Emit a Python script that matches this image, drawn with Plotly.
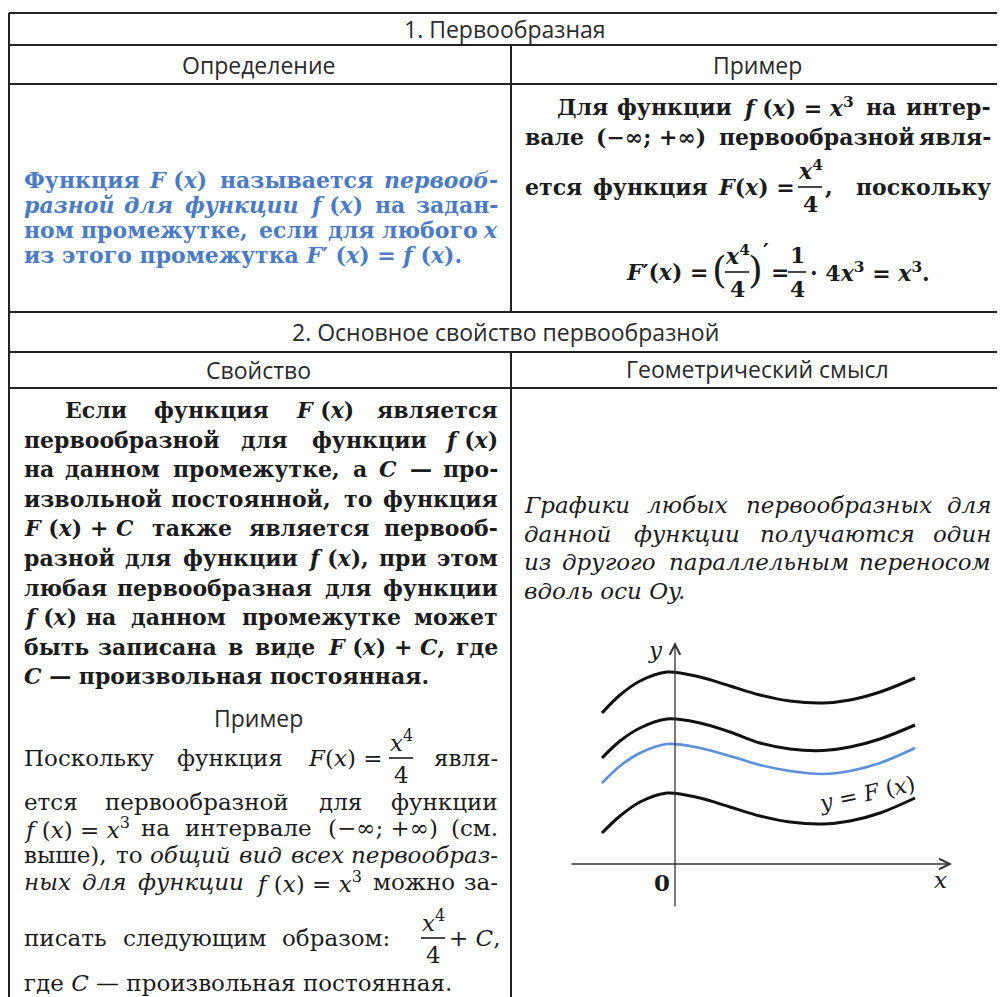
import re
import plotly.graph_objects as go

W, H = 1005, 997
OFF = 8                      # browser body margin
FW, FH = W - OFF, H - OFF    # figure size so the page fits the window

# ---- chart data (1 unit = 10 px, origin where the axes cross) ----
curve_x = [-7.3, -5.5, -3.5, -0.8, 2.5, 5.5, 8.5, 11.5, 14.8, 17.5, 20.5, 24.0]
curve_top = [15.1, 16.9, 18.3, 19.2, 18.7, 17.8, 16.9, 16.3, 16.1, 16.4, 17.2, 18.6]
curve_mid = [10.6, 12.3, 13.6, 14.5, 14.1, 13.2, 12.1, 11.5, 11.35, 11.7, 12.5, 13.9]
curve_F = [8.1, 9.8, 11.1, 12.0, 11.6, 10.8, 9.9, 9.3, 9.0, 9.3, 10.1, 11.6]
curve_low = [3.1, 4.8, 6.2, 7.1, 6.6, 5.7, 4.8, 4.2, 4.0, 4.3, 5.1, 6.6]

# ---- text content ('~' keeps pieces together on a justified line) ----
headers = ["1. Первообразная", "Определение", "Пример",
           "2. Основное свойство первообразной", "Свойство", "Геометрический смысл", "Пример"]

definition_lines = [
    "Функция <i>F</i>~(<i>x</i>) называется <i>первооб-</i>",
    "<i>разной</i> <i>для</i> <i>функции</i> <i>f</i>~(<i>x</i>) на задан-",
    "ном промежутке, если для любого <i>x</i>",
    "из этого промежутка <i>F</i>′~(<i>x</i>)~=~<i>f</i>~(<i>x</i>).",
]

property_lines = [
    "Если функция <i>F</i>~(<i>x</i>) является",
    "первообразной для функции <i>f</i>~(<i>x</i>)",
    "на данном промежутке, а <i>C</i> — про-",
    "извольной постоянной, то функция",
    "<i>F</i>~(<i>x</i>)~+~<i>C</i> также является первооб-",
    "разной для функции <i>f</i>~(<i>x</i>), при этом",
    "любая первообразная для функции",
    "<i>f</i>~(<i>x</i>) на данном промежутке может",
    "быть записана в виде <i>F</i>~(<i>x</i>)~+~<i>C</i>, где",
    "<i>C</i> — произвольная постоянная.",
]

example2_lines = [
    "ется первообразной для функции",
    "<i>f</i>~(<i>x</i>)~=~<i>x</i><sup>3</sup> на интервале (−∞;~+∞) (см.",
    "выше), то <i>общий</i> <i>вид</i> <i>всех</i> <i>первообраз-</i>",
    "<i>ных</i> <i>для</i> <i>функции</i> <i>f</i>~(<i>x</i>)~=~<i>x</i><sup>3</sup> можно за-",
]
example2_y = [802, 828, 855, 882]

geometry_lines = [
    "Графики любых первообразных для",
    "данной функции получаются один",
    "из другого параллельным переносом",
    "вдоль оси Oy.",
]

SERIF = "DejaVu Serif"
SANS = "Open Sans"
INK = "#1b1b1b"
BLUE_TEXT = "#4a7bc4"
BLUE_LINE = "#5b8fd9"
BODY = 22
REG = 23

CW = {'а': .596, 'б': .6, 'в': .6, 'г': .53, 'д': .64, 'е': .592, 'ж': .92, 'з': .54, 'и': .66,
      'й': .66, 'к': .63, 'л': .64, 'м': .77, 'н': .66, 'о': .602, 'п': .66, 'р': .64, 'с': .56,
      'т': .58, 'у': .58, 'ф': .85, 'х': .58, 'ц': .66, 'ч': .63, 'ш': .95, 'щ': .95, 'ъ': .68,
      'ы': .86, 'ь': .6, 'э': .56, 'ю': .87, 'я': .62, ' ': .318, ',': .318, '.': .318, '-': .338,
      '(': .39, ')': .39, ';': .337, ':': .337, '—': 1.0, '−': .838, '+': .838, '=': .838,
      '∞': .833, '′': .3, 'x': .56, 'f': .37, 'F': .68, 'C': .72, 'O': .78, 'y': .56,
      'Е': .72, 'Ф': .85, 'Д': .78, 'Г': .66, 'П': .8, '3': .636, '4': .636}

annotations = []
shapes = []


def px(x):
    return (x - OFF) / FW


def py(y):
    return 1 - (y - OFF) / FH


def text(s, x, y, size=BODY, family=SERIF, color=INK, anchor="left", bold=False):
    if bold:
        s = "<b>" + s + "</b>"
    annotations.append(dict(text=s, x=px(x), y=py(y), xref="paper", yref="paper",
                            xanchor=anchor, yanchor="middle", showarrow=False,
                            font=dict(family=family, size=size, color=color)))


def line(x0, y0, x1, y1, width=2.0, color="#222"):
    shapes.append(dict(type="line", xref="paper", yref="paper",
                       x0=px(x0), y0=py(y0), x1=px(x1), y1=py(y1),
                       line=dict(color=color, width=width)))


def frac(num, den, cx, cy, bold, size=BODY, half=12):
    text(num, cx, cy - 17, size, anchor="center", bold=bold)
    line(cx - half, cy, cx + half, cy, width=1.6, color=INK)
    text(den, cx, cy + 17, size, anchor="center", bold=bold)


def est_width(tok, size, bold):
    total, scale = 0.0, 1.0
    for part in re.split(r'(<[^>]+>)', tok):
        if part.startswith('<'):
            if part == '<sup>':
                scale = 0.7
            elif part == '</sup>':
                scale = 1.0
            continue
        for ch in part:
            total += CW.get(ch, 0.62) * scale
    return total * size * (1.11 if bold else 1.0)


def place_line(s, xl, xr, y, size=BODY, bold=False, color=INK, italic=False, justify=True):
    toks = [t.replace('~', ' ') for t in s.split(' ')]
    fmt = (lambda t: '<i>' + t + '</i>') if italic else (lambda t: t)
    if not justify or len(toks) < 2:
        text(fmt(' '.join(toks)), xl, y, size, color=color, bold=bold)
        return
    widths = [est_width(t, size, bold) for t in toks]
    space = CW[' '] * size
    gap = max(space, (xr - xl - sum(widths)) / (len(toks) - 1))
    x = xl
    for j, (t, w) in enumerate(zip(toks, widths)):
        if j == 0:
            text(fmt(t), xl, y, size, color=color, bold=bold)
        elif j == len(toks) - 1:
            text(fmt(t), xr, y, size, color=color, bold=bold, anchor="right")
        else:
            text(fmt(t), x + w / 2, y, size, color=color, bold=bold, anchor="center")
        x += w + gap


def paragraph(lines, xl, xr, y0, dy, indent=0, **kw):
    for i, s in enumerate(lines):
        place_line(s, xl + (indent if i == 0 else 0), xr, y0 + dy * i,
                   justify=(i < len(lines) - 1), **kw)


# ---- table grid ----
L, R = 9, 1001
for yy in [13, 45, 84, 312, 352, 388]:
    line(L, yy, R, yy)
line(L, 13, L, 997)
line(R, 13, R, 997)
line(511, 45, 511, 312)
line(511, 352, 511, 997)

# ---- headers ----
hdr_pos = [(505, 29), (259, 65), (757, 65), (505, 332), (259, 370), (757, 369), (259, 718)]
for s, (x, y) in zip(headers, hdr_pos):
    text(s, x, y, size=23, family=SANS, color="#2a2a2a", anchor="center")

# ---- definition (blue) ----
paragraph(definition_lines, 22, 500, 180, 25, bold=True, color=BLUE_TEXT)

# ---- example 1 ----
place_line("Для функции <i>f</i>~(<i>x</i>)~=~<i>x</i><sup>3</sup> на интер-", 555, 993, 107, bold=True)
place_line("вале (−∞;~+∞) первообразной явля-", 523, 993, 137, bold=True)
text("ется", 523, 187, bold=True)
text("функция", 591, 187, bold=True)
text("<i>F</i>(<i>x</i>) =", 716, 187, bold=True)
frac("<i>x</i><sup>4</sup>", "4", 810, 187, True)
text(",", 823, 187, bold=True)
text("поскольку", 993, 187, anchor="right", bold=True)

text("<i>F</i>′(<i>x</i>) =", 710, 272, anchor="right", bold=True)
text("(", 719, 270, size=38, anchor="center")
frac("<i>x</i><sup>4</sup>", "4", 737, 272, True)
text(")", 755, 270, size=38, anchor="center")
text("′", 766, 251, bold=True, anchor="center")
text("=", 780, 272, bold=True, anchor="center")
frac("1", "4", 797, 272, True, half=9)
text("· 4<i>x</i><sup>3</sup> = <i>x</i><sup>3</sup>.", 808, 272, bold=True)

# ---- property ----
paragraph(property_lines, 22, 500, 410, 29.6, indent=41, bold=True)

# ---- example 2 ----
text("Поскольку", 22, 758, REG)
text("функция", 285, 758, REG, anchor="right")
text("<i>F</i>(<i>x</i>) =", 385, 758, REG, anchor="right")
frac("<i>x</i><sup>4</sup>", "4", 401, 758, False, size=REG)
text("явля-", 500, 758, REG, anchor="right")
for s, y in zip(example2_lines, example2_y):
    place_line(s, 22, 500, y, size=REG)
place_line("писать следующим образом:", 22, 392, 938, size=REG)
frac("<i>x</i><sup>4</sup>", "4", 433, 938, False, size=REG)
text("+ <i>C</i>,", 447, 938, REG)
text("где <i>C</i> — произвольная постоянная.", 22, 983, REG)

# ---- geometric meaning ----
paragraph(geometry_lines, 522, 993, 505, 28.5, italic=True, size=REG)

# ---- chart ----
fig = go.Figure()
for ys, col, w in [(curve_top, "#111111", 3), (curve_mid, "#111111", 3),
                   (curve_F, BLUE_LINE, 2.6), (curve_low, "#111111", 3)]:
    fig.add_trace(go.Scatter(x=curve_x, y=ys, mode="lines",
                             line=dict(color=col, width=w, shape="spline", smoothing=1.0),
                             hoverinfo="skip", showlegend=False))

axis_note = dict(xref="x", yref="y", axref="x", ayref="y", text="", showarrow=True,
                 arrowhead=5, arrowsize=1.6, arrowwidth=1.3, arrowcolor="#333")
annotations.append(dict(axis_note, x=27.7, y=0, ax=-10.5, ay=0))
annotations.append(dict(axis_note, x=0, y=22.2, ax=0, ay=-4.4))
for s, x, y in [("<i>y</i>", -2.0, 21.4), ("<b>0</b>", -1.3, -1.8), ("<i>x</i>", 26.5, -1.6)]:
    annotations.append(dict(text=s, x=x, y=y, xref="x", yref="y", showarrow=False,
                            font=dict(family=SERIF, size=23, color=INK)))
annotations.append(dict(text="<i>y</i> = <i>F</i> (<i>x</i>)", x=19.2, y=7.1, xref="x", yref="y",
                        showarrow=False, textangle=-12,
                        font=dict(family=SERIF, size=22, color=INK)))

fig.update_layout(
    width=FW, height=FH, margin=dict(l=0, r=0, t=0, b=0),
    paper_bgcolor="white", plot_bgcolor="rgba(0,0,0,0)",
    xaxis=dict(domain=[px(560), px(960)], range=[-11.5, 28.5], visible=False, fixedrange=True),
    yaxis=dict(domain=[py(920), py(630)], range=[-5.6, 23.4], visible=False, fixedrange=True),
    annotations=annotations, shapes=shapes, showlegend=False,
)

fig.write_html("out.html")
